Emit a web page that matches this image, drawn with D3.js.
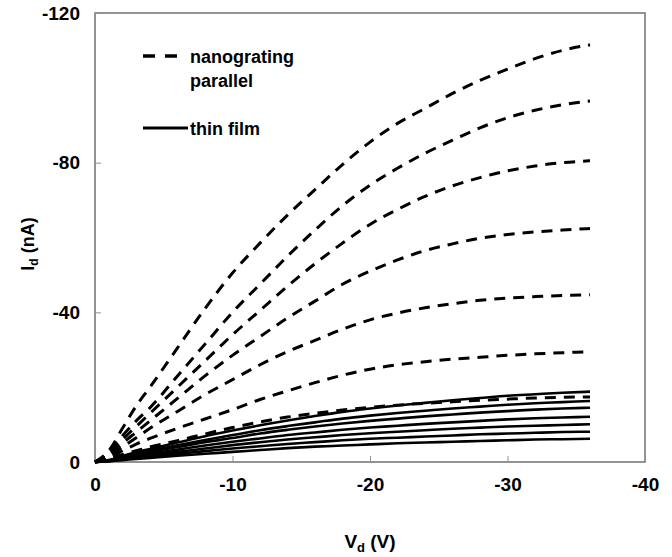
<!DOCTYPE html>
<html>
<head>
<meta charset="utf-8">
<script src="https://cdn.jsdelivr.net/npm/d3@7"></script>
<style>
  body { margin: 0; background: #fff; }
  text { font-family: "Liberation Sans", Arial, sans-serif; font-weight: bold; }
</style>
</head>
<body>
<div id="chart"></div>
<script>
var w = 672;
var h = 557;

// drain voltage samples (V)
var vd = [0, -1, -2, -3, -4, -6, -8, -10, -12, -14, -16, -18, -20, -22, -24, -26, -28, -30, -32, -34, -36];

// nanograting parallel (dashed), drain current in nA
var dash1 = [0, -3, -9, -15, -20, -30.5, -41, -50.5, -58.5, -66, -72.8, -79.5, -85.5, -90.5, -94.5, -98.5, -102, -105, -107.8, -110, -111.5];
var dash2 = [0, -2.5, -7, -11, -14.5, -23, -31.5, -40, -47.5, -55, -62, -68.5, -74, -78.5, -82.5, -86, -89.3, -92, -94, -95.5, -96.5];
var dash3 = [0, -2, -6, -9.5, -13, -20, -27, -34, -40.5, -47, -53, -58.5, -63.5, -67.5, -71, -73.8, -76, -77.8, -79.1, -80, -80.5];
var dash4 = [0, -1.7, -5, -8, -11, -17, -23, -28.5, -33.5, -38.5, -43, -47.5, -51, -54, -56.5, -58.3, -59.8, -60.8, -61.5, -62, -62.4];
var dash5 = [0, -1.4, -4, -6.5, -9, -13.5, -18, -22, -26, -29.5, -32.5, -35.5, -38, -39.8, -41.2, -42.3, -43.2, -43.8, -44.2, -44.5, -44.7];
var dash6 = [0, -1.1, -3, -4.8, -6.3, -9, -11.5, -14, -16.7, -19, -21.2, -23.2, -24.8, -26, -26.8, -27.5, -28, -28.5, -28.9, -29.2, -29.5];
var dash7 = [0, -0.8, -2, -3, -4, -5.7, -7.5, -9.2, -10.7, -12, -13, -13.9, -14.6, -15.2, -15.7, -16.1, -16.5, -16.8, -17.1, -17.3, -17.4];

// thin film (solid)
var film1 = [0, -0.5, -1.6, -2.6, -3.5, -5.2, -6.9, -8.4, -9.8, -11.1, -12.3, -13.4, -14.3, -15.1, -15.8, -16.5, -17.1, -17.7, -18.1, -18.5, -18.8];
var film2 = [0, -0.4, -1.4, -2.2, -3, -4.5, -5.9, -7.2, -8.5, -9.6, -10.6, -11.6, -12.4, -13.1, -13.7, -14.3, -14.8, -15.3, -15.7, -16, -16.3];
var film3 = [0, -0.4, -1.2, -2, -2.7, -4, -5.3, -6.4, -7.6, -8.6, -9.5, -10.3, -11, -11.6, -12.2, -12.7, -13.2, -13.6, -14, -14.3, -14.5];
var film4 = [0, -0.3, -1, -1.6, -2.2, -3.3, -4.4, -5.4, -6.3, -7.2, -7.9, -8.6, -9.2, -9.7, -10.2, -10.6, -11, -11.4, -11.7, -11.9, -12.1];
var film5 = [0, -0.3, -0.8, -1.3, -1.8, -2.7, -3.6, -4.5, -5.3, -6, -6.6, -7.2, -7.7, -8.1, -8.5, -8.9, -9.2, -9.5, -9.7, -9.9, -10.1];
var film6 = [0, -0.2, -0.7, -1.1, -1.5, -2.2, -2.9, -3.6, -4.2, -4.8, -5.3, -5.8, -6.2, -6.5, -6.8, -7.1, -7.4, -7.6, -7.8, -8, -8.1];
var film7 = [0, -0.2, -0.5, -0.8, -1.1, -1.7, -2.2, -2.7, -3.2, -3.7, -4.1, -4.4, -4.7, -5, -5.2, -5.4, -5.6, -5.8, -6, -6.1, -6.2];

var dashedSeries = [dash1, dash2, dash3, dash4, dash5, dash6, dash7];
var solidSeries = [film1, film2, film3, film4, film5, film6, film7];

var xTicks = [0, -10, -20, -30, -40];
var yTicks = [0, -40, -80, -120];
var legendNames = ["nanograting", "parallel", "thin film"];

var padLeft = 95, padRight = 645, padTop = 13, padBottom = 462;

var svg = d3.select("#chart")
    .append("svg")
    .attr("width", w)
    .attr("height", h);

var xScale = d3.scaleLinear().domain([0, -40]).range([padLeft, padRight]);
var yScale = d3.scaleLinear().domain([0, -120]).range([padBottom, padTop]);

// frame
svg.append("rect")
    .attr("x", padLeft)
    .attr("y", padTop)
    .attr("width", padRight - padLeft)
    .attr("height", padBottom - padTop)
    .attr("fill", "none")
    .attr("stroke", "#707070")
    .attr("stroke-width", 1.5);

// axes, ticks inside
var xAxis = d3.axisBottom(xScale).tickValues(xTicks).tickSize(-6).tickPadding(16).tickFormat(d3.format("d"));
var yAxis = d3.axisLeft(yScale).tickValues(yTicks).tickSize(-6).tickPadding(15).tickFormat(d3.format("d"));

var gx = svg.append("g")
    .attr("transform", "translate(0," + padBottom + ")")
    .call(xAxis);
var gy = svg.append("g")
    .attr("transform", "translate(" + padLeft + ",0)")
    .call(yAxis);

[gx, gy].forEach(function (g) {
    g.select(".domain").remove();
    g.selectAll(".tick line").attr("stroke", "#909090").attr("stroke-width", 1);
    g.selectAll(".tick text")
        .attr("fill", "#000")
        .attr("font-size", "19px")
        .attr("font-family", "Liberation Sans, Arial, sans-serif")
        .attr("font-weight", "bold")
        .text(function (d) { return d === 0 ? "0" : String(d); });
});
gx.selectAll(".tick text").attr("dy", "0.71em");

// curves
var line = d3.line()
    .x(function (d) { return xScale(d[0]); })
    .y(function (d) { return yScale(d[1]); })
    .curve(d3.curveMonotoneX);

var toPoints = function (s) {
    return vd.map(function (v, i) { return [v, s[i]]; });
};

svg.append("g").selectAll("path")
    .data(solidSeries)
    .enter()
    .append("path")
    .attr("d", function (d) { return line(toPoints(d)); })
    .attr("fill", "none")
    .attr("stroke", "#000")
    .attr("stroke-width", 2.6);

svg.append("g").selectAll("path")
    .data(dashedSeries)
    .enter()
    .append("path")
    .attr("d", function (d) { return line(toPoints(d)); })
    .attr("fill", "none")
    .attr("stroke", "#000")
    .attr("stroke-width", 3)
    .attr("stroke-dasharray", "11,8");

// legend
svg.append("line")
    .attr("x1", 143).attr("x2", 178)
    .attr("y1", 56).attr("y2", 56)
    .attr("stroke", "#000")
    .attr("stroke-width", 3.5)
    .attr("stroke-dasharray", "12,10");
svg.append("line")
    .attr("x1", 143).attr("x2", 188)
    .attr("y1", 128).attr("y2", 128)
    .attr("stroke", "#000")
    .attr("stroke-width", 3);

svg.selectAll("text.legend")
    .data(legendNames)
    .enter()
    .append("text")
    .attr("class", "legend")
    .attr("x", 190)
    .attr("y", function (d, i) { return [63, 87, 135][i]; })
    .attr("font-size", "18px")
    .attr("fill", "#000")
    .text(function (d) { return d; });

// axis titles
var xt = svg.append("text")
    .attr("x", 370)
    .attr("y", 548)
    .attr("text-anchor", "middle")
    .attr("font-size", "19px")
    .attr("fill", "#000");
xt.append("tspan").text("V");
xt.append("tspan").attr("font-size", "13px").attr("dy", 4).text("d");
xt.append("tspan").attr("dy", -4).text(" (V)");

var yt = svg.append("text")
    .attr("transform", "translate(34,244) rotate(-90)")
    .attr("text-anchor", "middle")
    .attr("font-size", "18px")
    .attr("fill", "#000");
yt.append("tspan").text("I");
yt.append("tspan").attr("font-size", "12px").attr("dy", 4).text("d");
yt.append("tspan").attr("dy", -4).text(" (nA)");
</script>
</body>
</html>
